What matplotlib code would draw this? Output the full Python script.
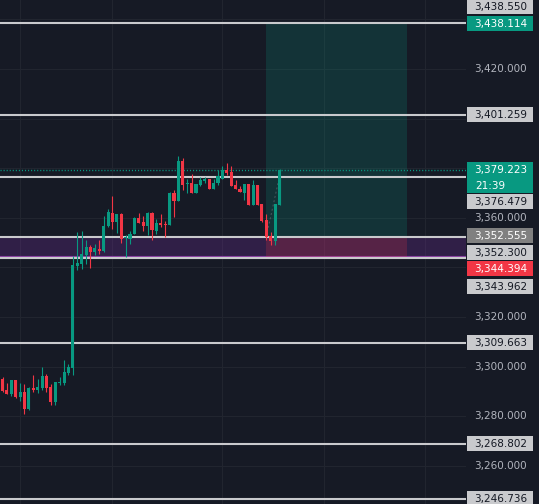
import matplotlib
matplotlib.use('Agg')
import matplotlib.pyplot as plt
from matplotlib.patches import Rectangle
from matplotlib.transforms import blended_transform_factory

# 64 candles, oldest first
opens = [3295.1, 3290.7, 3289.0, 3294.7, 3287.8, 3289.8, 3283.0, 3291.5, 3290.6, 3291.5,
         3296.3, 3291.9, 3285.8, 3293.5, 3293.5, 3297.5, 3299.5, 3340.6, 3341.5, 3345.1,
         3348.3, 3346.3, 3347.5, 3346.7, 3356.8, 3362.0, 3358.4, 3361.6, 3351.9, 3351.5,
         3353.5, 3360.0, 3358.4, 3356.8, 3362.0, 3354.8, 3358.0, 3357.6, 3357.2, 3370.1,
         3366.9, 3383.0, 3373.7, 3374.1, 3370.1, 3373.3, 3374.9, 3375.7, 3371.7, 3374.1,
         3375.7, 3379.4, 3378.5, 3373.3, 3371.7, 3370.1, 3373.7, 3365.2, 3373.3, 3365.6,
         3359.2, 3352.7, 3350.7, 3365.2]
highs = [3295.9, 3293.5, 3294.7, 3294.7, 3293.5, 3293.1, 3291.9, 3296.7, 3295.1, 3299.9,
         3297.1, 3293.1, 3293.9, 3295.9, 3302.8, 3301.1, 3344.7, 3354.4, 3354.8, 3351.1,
         3349.1, 3349.5, 3351.1, 3360.8, 3363.6, 3368.9, 3361.6, 3362.0, 3353.1, 3354.8,
         3360.4, 3362.0, 3360.8, 3362.4, 3362.4, 3359.6, 3361.6, 3358.8, 3370.5, 3371.3,
         3385.0, 3384.2, 3375.7, 3377.7, 3373.7, 3376.5, 3376.5, 3375.7, 3375.7, 3379.4,
         3381.0, 3382.2, 3381.0, 3375.3, 3372.9, 3373.7, 3373.7, 3375.3, 3373.3, 3365.6,
         3361.6, 3354.4, 3365.6, 3379.6]
lows = [3289.8, 3289.0, 3288.2, 3287.4, 3286.2, 3281.0, 3282.6, 3289.8, 3289.4, 3290.6,
        3289.8, 3284.6, 3284.6, 3292.7, 3292.7, 3296.7, 3296.7, 3339.0, 3339.4, 3341.5,
        3339.8, 3345.1, 3345.5, 3346.3, 3356.4, 3355.6, 3353.9, 3349.9, 3344.3, 3349.5,
        3353.5, 3358.0, 3354.8, 3353.1, 3351.1, 3353.5, 3356.4, 3352.3, 3357.2, 3360.4,
        3366.9, 3371.3, 3370.1, 3370.1, 3370.1, 3372.9, 3374.1, 3371.7, 3371.7, 3373.3,
        3375.7, 3377.3, 3372.9, 3371.7, 3370.5, 3367.3, 3365.2, 3365.2, 3365.2, 3358.4,
        3351.1, 3349.1, 3349.1, 3365.2]
closes = [3290.3, 3289.0, 3294.7, 3287.8, 3289.8, 3283.0, 3291.5, 3290.7, 3291.9, 3296.3,
          3291.5, 3285.8, 3293.9, 3293.9, 3297.9, 3299.9, 3341.1, 3341.9, 3345.5, 3348.3,
          3346.3, 3347.9, 3346.7, 3356.8, 3362.4, 3358.4, 3361.6, 3351.5, 3352.3, 3353.5,
          3360.0, 3358.0, 3356.8, 3362.0, 3355.2, 3358.0, 3357.2, 3357.2, 3370.1, 3366.9,
          3383.0, 3373.3, 3374.1, 3370.1, 3373.7, 3375.3, 3375.7, 3371.7, 3374.1, 3376.9,
          3379.4, 3378.1, 3372.9, 3371.7, 3370.5, 3373.7, 3365.2, 3373.3, 3365.2, 3358.8,
          3352.3, 3350.7, 3365.6, 3379.2]

# horizontal lines drawn on the chart
line_levels = [3438.550, 3401.259, 3376.479, 3352.300, 3343.962, 3309.663, 3268.802, 3246.736]
zone_top, zone_bottom = 3352.300, 3343.962

# long position tool
entry, take_profit, stop_loss = 3352.555, 3438.114, 3344.394
pos_start, pos_end = 60, 92
last_price = 3379.223
countdown = '21:39'

axis_ticks = [3260, 3280, 3300, 3320, 3360, 3420]
grid_prices = list(range(3240, 3441, 20))
grid_bars = [4, 25, 50, 73, 96]

# label shifts (px, downwards) where the price scale stacks them
label_shift = {3438.550: -16, 3376.479: 25, 3352.300: 16.5, 3344.394: 12, 3343.962: 29}

BG = '#161a25'
UP, DOWN = '#089981', '#f23645'
LINE = '#c9cacd'
W, H = 539, 504

fig = plt.figure(figsize=(W / 100, H / 100), dpi=100, facecolor=BG)
ax = fig.add_axes([0, 0, 466 / W, 1])
ax.set_facecolor(BG)
ax.set_xlim(-0.57, 105.4)
ax.set_ylim(3244.69, 3447.8)
ax.axis('off')

for p in grid_prices:
    ax.axhline(p, color='#21252f', lw=0.8, zorder=0)
for b in grid_bars:
    ax.axvline(b, color='#21252f', lw=0.8, zorder=0)

# purple zone
ax.add_patch(Rectangle((-1, zone_bottom), 110, zone_top - zone_bottom, facecolor='#6a2c91',
                       alpha=0.32, edgecolor='none', zorder=1))
ax.axhline(zone_bottom + 0.55, color='#8a3fa3', lw=0.8, zorder=1.2)

# position boxes
ax.add_patch(Rectangle((pos_start, entry), pos_end - pos_start, take_profit - entry,
                       facecolor=UP, alpha=0.2, edgecolor='none', zorder=1.5))
ax.add_patch(Rectangle((pos_start, stop_loss), pos_end - pos_start, entry - stop_loss,
                       facecolor=DOWN, alpha=0.2, edgecolor='none', zorder=1.5))
ax.plot([pos_start, 63.3], [entry, last_price], color='#6f737d', lw=0.7,
        ls=(0, (2, 2.5)), alpha=0.6, zorder=1.8)

for p in line_levels:
    ax.axhline(p, color=LINE, lw=1.5, zorder=2)

ax.axhline(last_price, color=UP, lw=1, ls=(0, (0.8, 1.4)), zorder=2.2)

# candles
x = list(range(len(opens)))
colors = [UP if c >= o else DOWN for o, c in zip(opens, closes)]
ax.vlines(x, lows, highs, colors=colors, lw=0.8, zorder=3)
bottoms = [min(o, c) for o, c in zip(opens, closes)]
heights = [max(abs(c - o), 0.4) for o, c in zip(opens, closes)]
ax.bar(x, heights, bottom=bottoms, width=0.7, color=colors, linewidth=0, zorder=3.5)

# right price scale
fig.patches.append(Rectangle((466 / W, 0), 1 - 466 / W, 1, transform=fig.transFigure,
                             facecolor=BG, edgecolor='none', zorder=-1))
trans = blended_transform_factory(fig.transFigure, ax.transData)
y0, y1 = ax.get_ylim()
upp = (y1 - y0) / H
FS = 7.5


def price_label(price, bg, fg, lines=1):
    yc = price - label_shift.get(price, 0) * upp
    h = 15 + 16 * (lines - 1)
    top = yc + 8 * upp
    fig.add_artist(Rectangle((467 / W, top - h * upp), 66 / W, h * upp, transform=trans,
                             facecolor=bg, edgecolor='none', zorder=5))
    fig.text(500.5 / W, yc, f'{price:,.3f}', transform=trans, ha='center',
             va='center', fontsize=FS, color=fg, zorder=6)
    return yc


for p in axis_ticks:
    fig.text(500.5 / W, p, f'{p:,.3f}', transform=trans, ha='center', va='center',
             fontsize=FS, color='#b2b5be')

for p in line_levels:
    price_label(p, LINE, '#131722')
price_label(take_profit, UP, 'white')
yc = price_label(last_price, UP, 'white', lines=2)
fig.text(475 / W, yc - 15.5 * upp, countdown, transform=trans, ha='left', va='center',
         fontsize=FS, color='white', zorder=6)
price_label(entry, '#808080', 'white')
price_label(stop_loss, DOWN, 'white')

fig.savefig('out.png', dpi=100, facecolor=BG)
